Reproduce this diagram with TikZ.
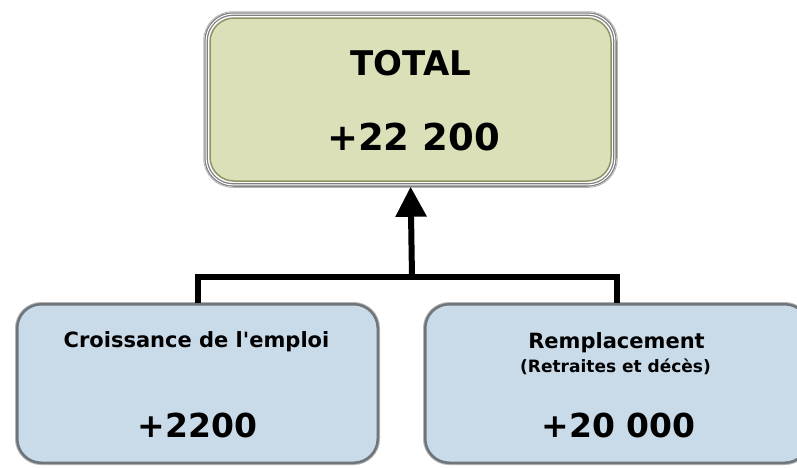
\documentclass[tikz,border=0pt]{standalone}
\usepackage{fontspec}
\setmainfont{DejaVu Sans}
\usetikzlibrary{arrows.meta,calc}
\definecolor{olivefill}{HTML}{DCE0B9}
\definecolor{oliveline}{HTML}{8E9266}
\definecolor{bluefill}{HTML}{C9DAE8}
\definecolor{darkrim}{HTML}{6E757B}
\definecolor{lightrim}{HTML}{B4B4B4}
\tikzset{
  topbox/.style={rectangle, rounded corners=24pt, fill=olivefill, draw=oliveline,
    line width=1.5pt, minimum width=401pt, minimum height=163pt, inner sep=0pt},
  subbox/.style={rectangle, rounded corners=24pt, fill=bluefill, draw=darkrim,
    line width=2.5pt, preaction={draw=lightrim, line width=4.5pt},
    minimum height=158.5pt, inner sep=0pt},
  lbl/.style={anchor=base, inner sep=0pt, font=\bfseries},
  conn/.style={line width=6pt, line join=miter, black},
}
\begin{document}
\begin{tikzpicture}[x=1pt,y=-1pt]
\clip (0,0) rectangle (797,467);
\fill[white] (0,0) rectangle (797,467);
% top box
\node[topbox] (total) at (410.5,99.5) {};
\draw[gray, line width=1.3pt, double=white, double distance=1pt, rounded corners=27pt]
  ($(total.north west)+(-3.2,-3.2)$) rectangle ($(total.south east)+(3.2,3.2)$);
\draw[lightrim, line width=0.8pt, rounded corners=29pt]
  ($(total.north west)+(-5.6,-5.6)$) rectangle ($(total.south east)+(5.6,5.6)$);
\node[lbl, font=\bfseries\fontsize{34}{40}\selectfont] (ttitle) at (411,75) {TOTAL};
\node[lbl, font=\bfseries\fontsize{37}{44}\selectfont] (tval) at (413.5,150) {+22 200};
% bottom boxes
\node[subbox, minimum width=360.5pt] (lbox) at (197.5,383.5) {};
\node[subbox, minimum width=383.5pt] (rbox) at (617,383.5) {};
\node[lbl, font=\bfseries\fontsize{21}{25}\selectfont] (ltitle) at (196.5,347) {Croissance de l\textquotesingle emploi};
\node[lbl, font=\bfseries\fontsize{33}{40}\selectfont] (lval) at (197.5,437) {+2200};
\node[lbl, font=\bfseries\fontsize{21}{25}\selectfont] (rtitle) at (616.5,348) {Remplacement};
\node[lbl, font=\bfseries\fontsize{17}{20}\selectfont] (rsub) at (615.5,372) {(Retraites et décès)};
\node[lbl, font=\bfseries\fontsize{33}{40}\selectfont] (rval) at (618.5,437) {+20 000};
% connectors
\coordinate (j) at (412,277);
\draw[conn] (lbox.north) |- (j) -| (rbox.north);
\draw[conn, -{Triangle[length=30pt,width=30pt]}, shorten >=5pt] (j) -- (total.south);
\end{tikzpicture}
\end{document}
